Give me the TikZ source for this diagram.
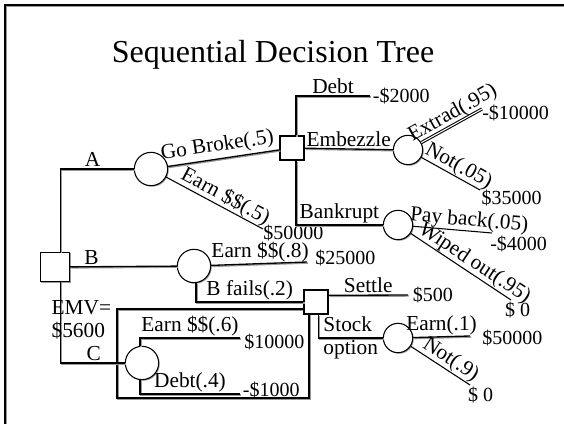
\documentclass[tikz,border=0pt]{standalone}
\usepackage{fontspec}
\setmainfont{Liberation Serif}
\usetikzlibrary{positioning, shadows}

\begin{document}
\begin{tikzpicture}[
  x=0.75pt, y=-0.75pt,
  tl/.style={line width=1pt, preaction={draw=black!40, line width=1pt, transform canvas={xshift=0.8pt, yshift=-0.8pt}}},
  sl/.style={line width=0.8pt},
  dsq/.style={draw, line width=0.8pt, fill=white, inner sep=0pt, minimum size=18pt, drop shadow={shadow xshift=0.8pt, shadow yshift=-0.8pt, fill=black!40, opacity=1}},
  chc/.style={circle, draw, line width=0.8pt, fill=white, inner sep=0pt, minimum size=22pt, drop shadow={shadow xshift=0.8pt, shadow yshift=-0.8pt, fill=black!40, opacity=1}},
  lab/.style={font=\fontsize{16}{17.5}\selectfont, inner sep=1pt},
  slab/.style={lab, sloped, above, inner sep=0pt},
  amt/.style={font=\fontsize{15}{17}\selectfont, inner sep=0pt}
]
\useasboundingbox (0,0) rectangle (564,424);

% frame and title
\draw[tl, line width=1.5pt] (5,424) |- (564,5);
\node[font=\fontsize{24}{28}\selectfont] (title) at (273,55) {Sequential Decision Tree};

% box round option C
\draw[tl] (117,309) rectangle (309,398);

% decision and chance nodes
\node[dsq, minimum size=22pt] (root) at (55,267) {};
\node[chc, minimum size=25pt] (cA) at (151,169) {};
\node[chc, minimum size=25pt] (cB) at (194,266) {};
\node[chc, minimum size=25pt] (cC) at (142,363) {};
\node[dsq] (s1) at (292,148) {};
\node[dsq] (s2) at (316,302) {};
\node[chc] (cE) at (408,150) {};
\node[chc] (cK) at (398,225) {};
\node[chc] (cT) at (398,338) {};

% free ends of the branches
\coordinate (eDebt) at (370,96);
\coordinate (eExt) at (482,109);
\coordinate (eNot5) at (480,190);
\coordinate (ePay) at (492,233);
\coordinate (eWip) at (511,300);
\coordinate (eEA) at (263,229);
\coordinate (eE8) at (307,262);
\coordinate (eSet) at (408,295);
\coordinate (eE1) at (470,336);
\coordinate (eN9) at (470,385);
\coordinate (eE6) at (240,338);
\coordinate (eD4) at (240,394);

% first decision
\draw[tl] ([xshift=4pt]root.north) |- (cA) node[lab, pos=0.72, above] {A};
\draw[tl] (root) -- (cB) node[lab, pos=0.2, above] {B};
\draw[tl] ([xshift=4pt]root.south) |- (cC) node[lab, pos=0.76, above] {C};
\node[lab, anchor=north west, align=left] (emv) at (50,299) {EMV=\\\$5600};

% option A
\draw[tl] (cA) -- (s1) node[lab, pos=0.46, sloped, above, inner sep=2pt] {Go Broke(.5)};
\draw[sl] (cA) -- (eEA) node[slab, pos=0.56] {Earn \$\$(.5)};
\node[amt, anchor=north west] (vEA) at ([yshift=3pt]eEA) {\$50000};
\draw[tl] ([xshift=3pt]s1.north) |- (eDebt) node[lab, pos=0.75, above] {Debt};
\node[amt, right=2pt of eDebt] (vDebt) {-\$2000};
\draw[tl] (s1) -- (cE) node[lab, midway, above] {Embezzle};
\draw[tl] ([xshift=3pt]s1.south) |- (cK) node[lab, pos=0.75, above] {Bankrupt};
\draw[sl, double, double distance=0.8pt] (cE) -- (eExt) node[slab, pos=0.6] {Extrad(.95)};
\node[amt, anchor=west] (vExt) at ([yshift=-3pt]eExt) {-\$10000};
\draw[sl] (cE) -- (eNot5) node[slab, pos=0.55] {Not(.05)};
\node[amt, anchor=north west] (vNot5) at ([xshift=1pt]eNot5) {\$35000};
\draw[sl] (cK) -- (ePay) node[slab, pos=0.7] {Pay back(.05)};
\node[amt, anchor=north west] (vPay) at ([xshift=-1.5pt, yshift=-2pt]ePay) {-\$4000};
\draw[sl] (cK) -- (eWip) node[slab, pos=0.58] {Wiped out(.95)};
\node[amt, anchor=north] (vWip) at ([xshift=5pt, yshift=-1.5pt]eWip) {\$ 0};

% option B
\draw[tl] (cB) -- (eE8) node[lab, pos=0.51, above] {Earn \$\$(.8)};
\node[amt, anchor=west] (vE8) at ([xshift=6pt, yshift=3pt]eE8) {\$25000};
\draw[tl] ([xshift=1.5pt]cB.south) |- (s2) node[lab, pos=0.75, above] {B fails(.2)};
\draw[tl] ([yshift=5pt]s2.east) -- (eSet) node[lab, midway, above] {Settle};
\node[amt, anchor=west] (vSet) at ([xshift=3.5pt]eSet) {\$500};
\draw[tl] ([xshift=2pt]s2.south) |- (cT) node[lab, pos=0.75, align=left] {Stock\\option};
\draw[tl] (cT) -- (eE1) node[lab, midway, above] {Earn(.1)};
\node[amt, anchor=west] (vE1) at ([xshift=9pt, yshift=-1.5pt]eE1) {\$50000};
\draw[sl] (cT) -- (eN9) node[slab, pos=0.58] {Not(.9)};
\node[amt, anchor=north] (vN9) at ([xshift=8pt, yshift=-1.5pt]eN9) {\$ 0};

% option C
\draw[tl] ([xshift=-1.5pt]cC.north) |- (eE6) node[lab, pos=0.75, above] {Earn \$\$(.6)};
\node[amt, anchor=north west] (vE6) at ([xshift=3pt, yshift=3pt]eE6) {\$10000};
\draw[tl] ([xshift=-1.5pt]cC.south) |- (eD4) node[lab, pos=0.75, above] {Debt(.4)};
\node[amt, anchor=west] (vD4) at ([xshift=2pt, yshift=3pt]eD4) {-\$1000};
\end{tikzpicture}
\end{document}
